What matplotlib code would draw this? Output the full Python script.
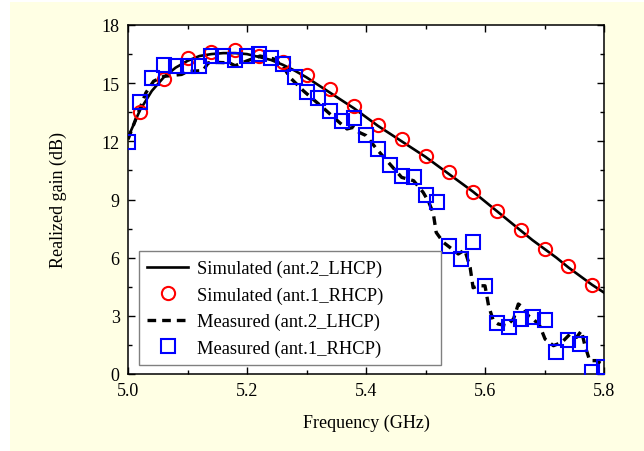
import matplotlib
matplotlib.use("Agg")
import matplotlib.pyplot as plt
from matplotlib.patches import Rectangle
from matplotlib.ticker import MultipleLocator

# ---------------- data ----------------
sim_lhcp_f = [5.00, 5.02, 5.04, 5.06, 5.08, 5.10, 5.12, 5.14, 5.16, 5.18, 5.20,
              5.22, 5.24, 5.26, 5.28, 5.30, 5.32, 5.34, 5.36, 5.38, 5.40,
              5.42, 5.44, 5.46, 5.48, 5.50, 5.52, 5.54, 5.56, 5.58, 5.60,
              5.62, 5.64, 5.66, 5.68, 5.70, 5.72, 5.74, 5.76, 5.78, 5.80]
sim_lhcp_g = [12.2, 13.6, 14.6, 15.3, 15.8, 16.15, 16.4, 16.5, 16.55, 16.55, 16.5,
              16.35, 16.2, 15.95, 15.65, 15.3, 14.9, 14.5, 14.1, 13.7, 13.25,
              12.8, 12.4, 12.0, 11.6, 11.2, 10.75, 10.3, 9.85, 9.4, 8.9,
              8.4, 7.9, 7.4, 6.9, 6.45, 6.0, 5.5, 5.05, 4.6, 4.2]

sim_rhcp_f = [5.02, 5.06, 5.10, 5.14, 5.18, 5.22, 5.26, 5.30, 5.34, 5.38,
              5.42, 5.46, 5.50, 5.54, 5.58, 5.62, 5.66, 5.70, 5.74, 5.78]
sim_rhcp_g = [13.5, 15.2, 16.3, 16.6, 16.7, 16.4, 16.1, 15.4, 14.7, 13.8,
              12.85, 12.1, 11.25, 10.4, 9.4, 8.4, 7.45, 6.45, 5.55, 4.6]

meas_lhcp_f = [5.000, 5.010, 5.020, 5.030, 5.043, 5.060, 5.075, 5.090, 5.100, 5.126,
               5.135, 5.150, 5.170, 5.180, 5.200, 5.222, 5.245, 5.260, 5.272, 5.295,
               5.310, 5.330, 5.355, 5.368, 5.379, 5.388, 5.400, 5.418, 5.440, 5.460,
               5.480, 5.496, 5.505, 5.513, 5.518, 5.530, 5.541, 5.555, 5.566, 5.575,
               5.580, 5.589, 5.600, 5.606, 5.614, 5.622, 5.636, 5.648, 5.656, 5.664,
               5.673, 5.681, 5.692, 5.701, 5.715, 5.729, 5.743, 5.754, 5.762, 5.768,
               5.776, 5.787, 5.796, 5.800]
meas_lhcp_g = [12.1, 12.9, 13.7, 14.5, 15.1, 15.35, 15.4, 15.45, 15.6, 15.65,
               16.05, 16.07, 16.05, 15.9, 16.15, 16.4, 16.25, 15.9, 15.3, 14.6,
               14.2, 13.67, 12.98, 12.64, 12.72, 12.47, 12.3, 11.6, 10.83, 10.14,
               9.97, 9.37, 8.9, 8.3, 7.3, 6.79, 6.53, 6.19, 6.4, 5.5,
               4.45, 4.55, 4.55, 3.52, 2.75, 2.58, 2.49, 2.84, 3.61, 3.44,
               3.0, 2.84, 2.49, 1.8, 1.46, 1.63, 2.06, 1.89, 2.23, 1.46,
               0.69, 0.69, 0.52, 0.5]

meas_rhcp_f = [5.00, 5.02, 5.04, 5.06, 5.08, 5.10, 5.12, 5.14, 5.16, 5.18, 5.20,
               5.22, 5.24, 5.26, 5.28, 5.30, 5.32, 5.34, 5.36, 5.38, 5.40,
               5.42, 5.44, 5.46, 5.48, 5.50, 5.52, 5.54, 5.56, 5.58, 5.60,
               5.62, 5.64, 5.66, 5.68, 5.70, 5.72, 5.74, 5.76, 5.78, 5.80]
meas_rhcp_g = [11.95, 14.05, 15.27, 15.92, 15.86, 15.9, 15.9, 16.4, 16.4, 16.22, 16.38,
               16.52, 16.28, 15.98, 15.3, 14.56, 14.22, 13.54, 13.06, 13.2, 12.34,
               11.58, 10.78, 10.19, 10.18, 9.23, 8.89, 6.62, 5.93, 6.82, 4.55,
               2.61, 2.41, 2.84, 2.92, 2.80, 1.15, 1.77, 1.55, 0.12, 0.35]

x_ticks = [5.0, 5.2, 5.4, 5.6, 5.8]
y_ticks = [0, 3, 6, 9, 12, 15, 18]

labels = ["Simulated (ant.2_LHCP)", "Simulated (ant.1_RHCP)",
          "Measured (ant.2_LHCP)", "Measured (ant.1_RHCP)"]

# ---------------- figure ----------------
plt.rcParams['font.family'] = ['Liberation Serif', 'DejaVu Serif']
plt.rcParams['font.size'] = 13

W, H = 644, 452
fig = plt.figure(figsize=(W / 100, H / 100), dpi=100, facecolor='white')
fig.patches.append(Rectangle((10 / W, 0), 1 - 10 / W, 1 - 3 / H,
                             transform=fig.transFigure, facecolor='#FFFFE4',
                             edgecolor='none', zorder=-10))

ax = fig.add_axes([128 / W, (H - 375) / H, 476 / W, 349 / H])
ax.set_facecolor('white')

ax.plot(sim_lhcp_f, sim_lhcp_g, color='black', lw=1.9, label=labels[0], zorder=3)
ax.plot(sim_rhcp_f, sim_rhcp_g, ls='none', marker='o', ms=9.5, mfc='none',
        mec='#FF0000', mew=1.5, label=labels[1], zorder=4)
ax.plot(meas_lhcp_f, meas_lhcp_g, color='black', lw=2.4, ls=(0, (2.6, 1.8)),
        label=labels[2], zorder=3)
ax.plot(meas_rhcp_f, meas_rhcp_g, ls='none', marker='s', ms=9.5, mfc='none',
        mec='#0000FF', mew=1.5, label=labels[3], zorder=4)

ax.set_xlim(5.0, 5.8)
ax.set_ylim(0, 18)
ax.set_xticks(x_ticks)
ax.set_xticklabels([f"{v:.1f}" for v in x_ticks])
ax.set_yticks(y_ticks)
ax.set_yticklabels([str(v) for v in y_ticks])
ax.xaxis.set_minor_locator(MultipleLocator(0.1))
ax.yaxis.set_minor_locator(MultipleLocator(1.5))
ax.tick_params(which='both', direction='in', top=True, right=True,
               labelsize=13, pad=6, width=1)
ax.tick_params(which='major', length=5)
ax.tick_params(which='minor', length=3)
for s in ax.spines.values():
    s.set_linewidth(1.1)

ax.set_xlabel("Frequency (GHz)", fontsize=13, labelpad=10)
ax.set_ylabel("Realized gain (dB)", fontsize=13, labelpad=25)

leg = ax.legend(loc='lower left',
                bbox_to_anchor=(11 / 476, 9 / 349, 302 / 476, 0.3),
                mode='expand', borderaxespad=0, fancybox=False, framealpha=1,
                edgecolor='#808080', fontsize=13.3, numpoints=1,
                handlelength=2.2, handletextpad=0.5, labelspacing=0.5,
                borderpad=0.45)
leg.get_frame().set_linewidth(1.0)

fig.savefig("out.png", dpi=100, facecolor=fig.get_facecolor())
